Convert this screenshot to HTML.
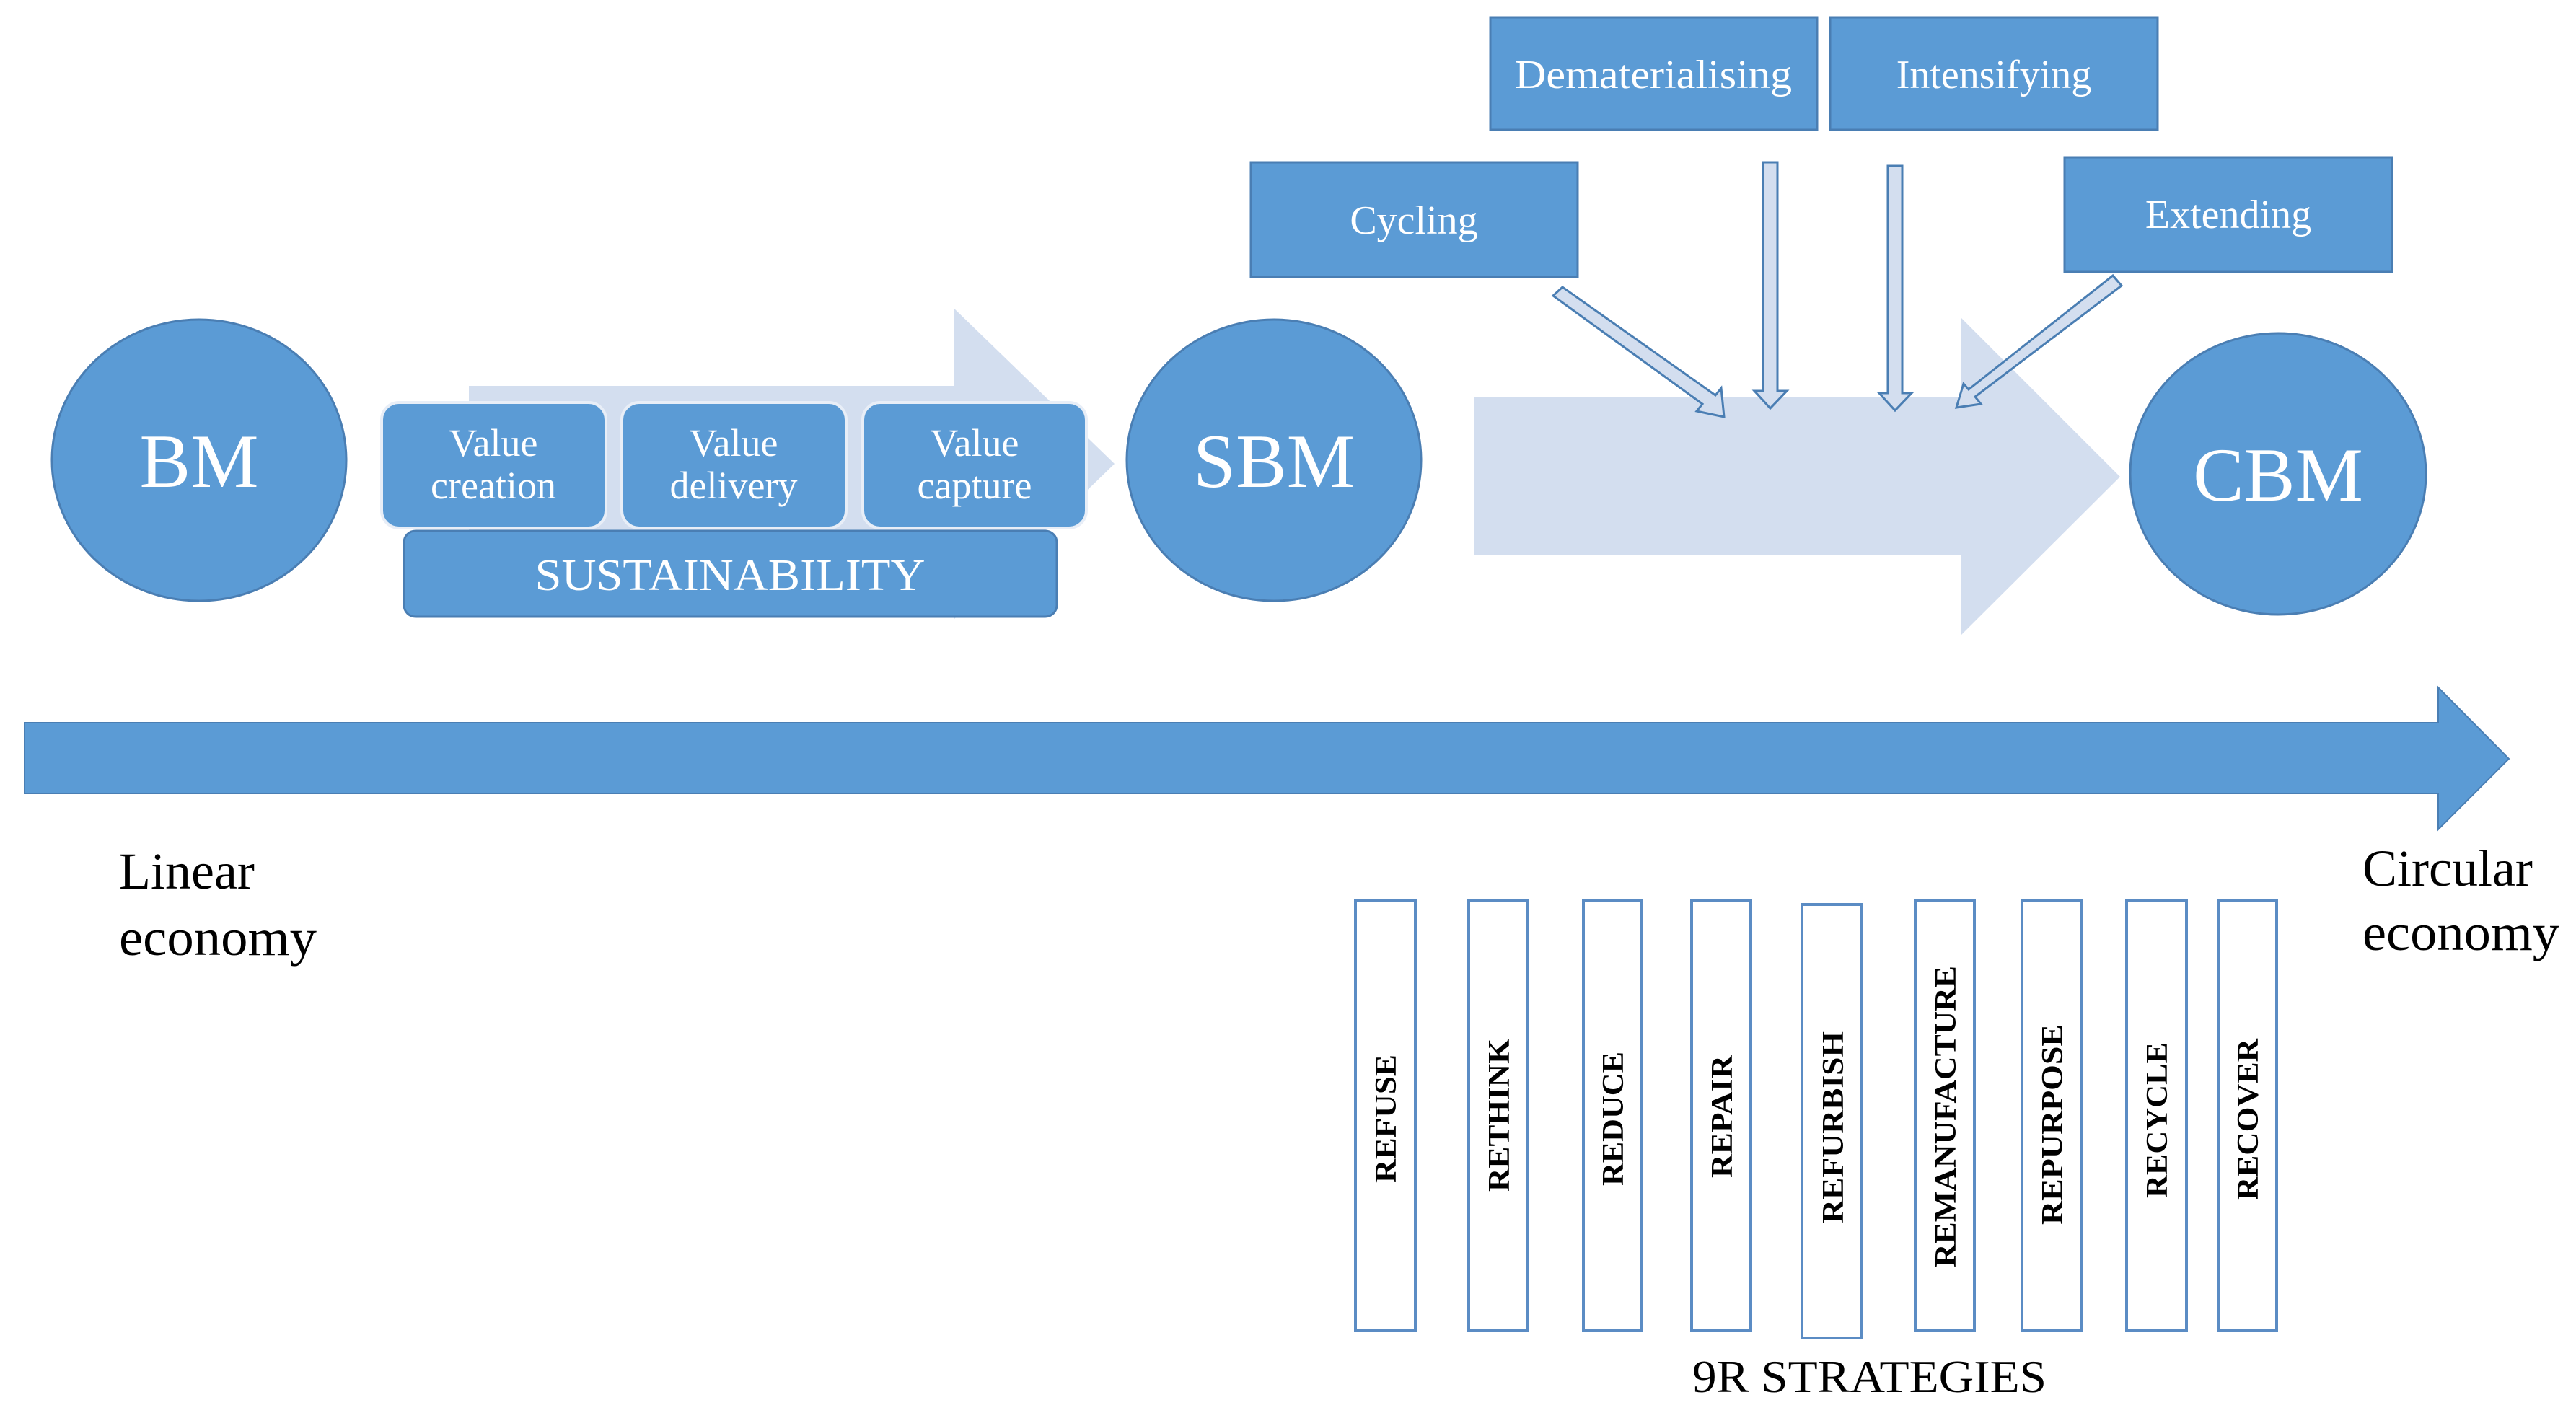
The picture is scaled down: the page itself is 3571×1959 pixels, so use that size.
<!DOCTYPE html>
<html><head><meta charset="utf-8"><style>
html,body{margin:0;padding:0;background:#fff;}
svg{display:block;}
text{font-family:"Liberation Serif",serif;}
</style></head><body>
<svg width="3571" height="1959" viewBox="0 0 3571 1959" xmlns="http://www.w3.org/2000/svg">
<!-- light arrow BM->SBM -->
<polygon points="650,535 1323,535 1323,428 1545,643 1323,858 1323,751 650,751" fill="#D3DEEF"/>
<!-- BM -->
<ellipse cx="276" cy="638" rx="204" ry="195" fill="#5B9BD5" stroke="#4A7EB3" stroke-width="3"/>
<text x="276" y="675" font-size="106" fill="#fff" text-anchor="middle">BM</text>
<!-- value boxes -->
<g fill="#5B9BD5" stroke="#E8EEF7" stroke-width="4">
<rect x="529" y="558" width="311" height="174" rx="24"/>
<rect x="862" y="558" width="311" height="174" rx="24"/>
<rect x="1196" y="558" width="310" height="174" rx="24"/>
</g>
<rect x="560" y="736" width="905" height="119" rx="16" fill="#5B9BD5" stroke="#4A7EB3" stroke-width="3"/>
<g fill="#fff" font-size="54" text-anchor="middle">
<text x="684" y="632">Value</text><text x="684" y="691">creation</text>
<text x="1017" y="632">Value</text><text x="1017" y="691">delivery</text>
<text x="1351" y="632">Value</text><text x="1351" y="691">capture</text>
<text x="1012" y="818" font-size="62" textLength="541" lengthAdjust="spacingAndGlyphs">SUSTAINABILITY</text>
</g>
<!-- SBM -->
<ellipse cx="1766" cy="638" rx="204" ry="195" fill="#5B9BD5" stroke="#4A7EB3" stroke-width="3"/>
<text x="1766" y="675" font-size="106" fill="#fff" text-anchor="middle">SBM</text>
<!-- big light arrow -->
<polygon points="2044,550 2719,550 2719,441 2939,661 2719,880 2719,770 2044,770" fill="#D3DEEF"/>
<!-- CBM -->
<ellipse cx="3158" cy="657" rx="205" ry="195" fill="#5B9BD5" stroke="#4A7EB3" stroke-width="3"/>
<text x="3158" y="694" font-size="106" fill="#fff" text-anchor="middle">CBM</text>
<!-- top boxes -->
<g fill="#5B9BD5" stroke="#4A7EB3" stroke-width="3">
<rect x="2066" y="24" width="453" height="156"/>
<rect x="2537" y="24" width="454" height="156"/>
<rect x="1734" y="225" width="453" height="159"/>
<rect x="2862" y="218" width="454" height="159"/>
</g>
<g fill="#fff" font-size="56" text-anchor="middle">
<text x="2292" y="122" textLength="384" lengthAdjust="spacingAndGlyphs">Dematerialising</text>
<text x="2764" y="122">Intensifying</text>
<text x="1960" y="324">Cycling</text>
<text x="3089" y="316">Extending</text>
</g>
<!-- small arrows -->
<g fill="#D3DEEF" stroke="#4A7EB3" stroke-width="3" stroke-linejoin="miter">
<polygon points="2444,225 2464,225 2464,542 2477,542 2454,566 2432,542 2444,542"/>
<polygon points="2617,230 2637,230 2637,545 2650,545 2627,569 2605,545 2617,545"/>
<polygon points="2153,410 2166,398 2378,548 2386,538 2390,578 2352,570 2360,560"/>
<polygon points="2929,382 2941,396 2738,550 2746,560 2712,565 2722,532 2729,540"/>
</g>
<!-- main arrow -->
<polygon points="34,1002 3380,1002 3380,953 3478,1052 3380,1150 3380,1100 34,1100" fill="#5B9BD5" stroke="#4A7EB3" stroke-width="2"/>
<g font-size="72" fill="#000">
<text x="165" y="1232">Linear</text>
<text x="165" y="1324" textLength="274" lengthAdjust="spacingAndGlyphs">economy</text>
<text x="3275" y="1228">Circular</text>
<text x="3275" y="1317" textLength="273" lengthAdjust="spacingAndGlyphs">economy</text>
</g>
<!-- 9R boxes -->
<g fill="#fff" stroke="#5B8CC4" stroke-width="4">
<rect x="1879" y="1249" width="83" height="596"/>
<rect x="2036" y="1249" width="82" height="596"/>
<rect x="2195" y="1249" width="81" height="596"/>
<rect x="2345" y="1249" width="82" height="596"/>
<rect x="2498" y="1254" width="83" height="601"/>
<rect x="2655" y="1249" width="82" height="596"/>
<rect x="2803" y="1249" width="82" height="596"/>
<rect x="2948" y="1249" width="83" height="596"/>
<rect x="3076" y="1249" width="80" height="596"/>
</g>
<g font-size="42" font-weight="bold" fill="#000" text-anchor="middle">
<text transform="translate(1935,1551) rotate(-90)" textLength="178" lengthAdjust="spacingAndGlyphs">REFUSE</text>
<text transform="translate(2092,1546) rotate(-90)" textLength="212" lengthAdjust="spacingAndGlyphs">RETHINK</text>
<text transform="translate(2250,1551) rotate(-90)" textLength="186" lengthAdjust="spacingAndGlyphs">REDUCE</text>
<text transform="translate(2401,1548) rotate(-90)" textLength="170" lengthAdjust="spacingAndGlyphs">REPAIR</text>
<text transform="translate(2555,1563) rotate(-90)" textLength="266" lengthAdjust="spacingAndGlyphs">REFURBISH</text>
<text transform="translate(2711,1548) rotate(-90)" textLength="418" lengthAdjust="spacingAndGlyphs">REMANUFACTURE</text>
<text transform="translate(2859,1559) rotate(-90)" textLength="278" lengthAdjust="spacingAndGlyphs">REPURPOSE</text>
<text transform="translate(3004,1553) rotate(-90)" textLength="216" lengthAdjust="spacingAndGlyphs">RECYCLE</text>
<text transform="translate(3130,1552) rotate(-90)" textLength="224" lengthAdjust="spacingAndGlyphs">RECOVER</text>
</g>
<text x="2346" y="1930" font-size="64" fill="#000" textLength="491" lengthAdjust="spacingAndGlyphs">9R STRATEGIES</text>
</svg>
</body></html>
